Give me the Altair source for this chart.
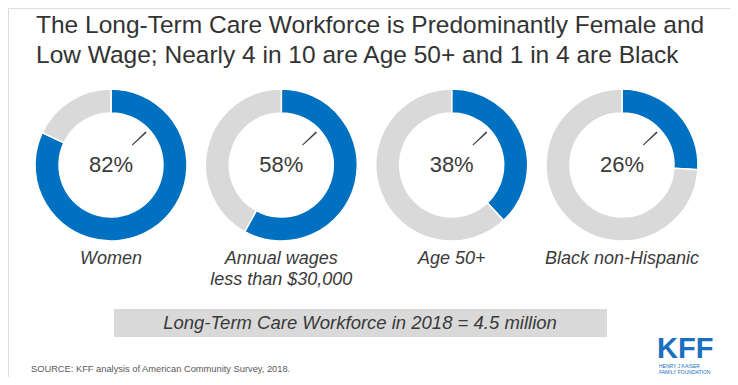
import altair as alt
import pandas as pd

# ---- data ----
categories = ["Women", "Annual wages\nless than $30,000", "Age 50+", "Black non-Hispanic"]
share_pct = [82, 58, 38, 26]
segment_names = ["Share", "Rest"]
title_lines = [
    "The Long-Term Care Workforce is Predominantly Female and",
    "Low Wage; Nearly 4 in 10 are Age 50+ and 1 in 4 are Black",
]
box_text = ["Long-Term Care Workforce in 2018 = 4.5 million"]
source_text = ["SOURCE: KFF analysis of American Community Survey, 2018."]
logo_word = ["KFF"]
logo_sub = ["HENRY J KAISER\nFAMILY FOUNDATION"]

BLUE = "#0070C0"
GRAY = "#D9D9D9"
TXT = "#3A3A3A"
FONT = "Liberation Sans"

rows = []
for c, p in zip(categories, share_pct):
    rows.append({"cat": c, "seg": "Share", "order": 0, "value": p})
    rows.append({"cat": c, "seg": "Rest", "order": 1, "value": 100 - p})
arcs_df = pd.DataFrame(rows)
pct_df = pd.DataFrame({"cat": categories, "pct": share_pct})

X = alt.X("cat:N", scale=alt.Scale(type="point", domain=categories, range=[103, 614], padding=0), axis=None)
CY = 157

donut = (
    alt.Chart(arcs_df)
    .transform_stack(stack="value", groupby=["cat"], as_=["start", "end"],
                     sort=[alt.SortField("order", "ascending")])
    .mark_arc(innerRadius=52, outerRadius=76, stroke="white", strokeWidth=1.5)
    .encode(
        x=X,
        y=alt.value(CY),
        theta=alt.Theta("start:Q", scale=alt.Scale(domain=[0, 100])),
        theta2="end:Q",
        color=alt.Color("seg:N", scale=alt.Scale(domain=segment_names, range=[BLUE, GRAY]), legend=None),
    )
)

leader = (
    alt.Chart(pct_df)
    .mark_arc(theta=0.80, theta2=0.835, innerRadius=29, outerRadius=48, color="#404040")
    .encode(x=X, y=alt.value(CY))
)

pct_text = (
    alt.Chart(pct_df)
    .transform_calculate(label="datum.pct + '%'")
    .mark_text(fontSize=22, baseline="alphabetic", align="center", color=TXT, font=FONT)
    .encode(x=X, y=alt.value(164), text="label:N")
)

cat_text = (
    alt.Chart(pct_df)
    .mark_text(fontSize=18, fontStyle="italic", baseline="alphabetic", align="center",
               lineBreak="\n", lineHeight=21, color=TXT, font=FONT)
    .encode(x=X, y=alt.value(256), text="cat:N")
)

title = (
    alt.Chart(pd.DataFrame({"t": ["\n".join(title_lines)]}))
    .mark_text(fontSize=24.5, align="left", baseline="alphabetic", lineBreak="\n",
               lineHeight=29.5, color="#333333", font=FONT)
    .encode(x=alt.value(28), y=alt.value(25), text="t:N")
)

box = (
    alt.Chart(pd.DataFrame({"t": box_text}))
    .mark_rect(color=GRAY)
    .encode(x=alt.value(106), x2=alt.value(599), y=alt.value(301), y2=alt.value(329))
)
box_label = (
    alt.Chart(pd.DataFrame({"t": box_text}))
    .mark_text(fontSize=18.5, fontStyle="italic", align="center", baseline="alphabetic",
               color=TXT, font=FONT)
    .encode(x=alt.value(352), y=alt.value(321), text="t:N")
)

source = (
    alt.Chart(pd.DataFrame({"t": source_text}))
    .mark_text(fontSize=9.3, align="left", baseline="alphabetic", color="#595959", font=FONT)
    .encode(x=alt.value(23), y=alt.value(364), text="t:N")
)

logo = (
    alt.Chart(pd.DataFrame({"t": logo_word}))
    .mark_text(fontSize=29, fontWeight="bold", align="left", baseline="alphabetic",
               color="#1A6FC0", font=FONT)
    .encode(x=alt.value(649), y=alt.value(350), text="t:N")
)
logo_small = (
    alt.Chart(pd.DataFrame({"t": logo_sub}))
    .mark_text(fontSize=5, align="left", baseline="alphabetic", lineBreak="\n",
               lineHeight=6, color="#1A6FC0", font=FONT)
    .encode(x=alt.value(651), y=alt.value(360), text="t:N")
)

chart = (
    alt.layer(donut, leader, pct_text, cat_text, title, box, box_label, source, logo, logo_small)
    .properties(width=722, height=369, padding=0, autosize="none")
    .configure_view(stroke=None)
    .configure(font=FONT)
)

chart.save("out.html", embed_options={"renderer": "svg", "actions": False})
